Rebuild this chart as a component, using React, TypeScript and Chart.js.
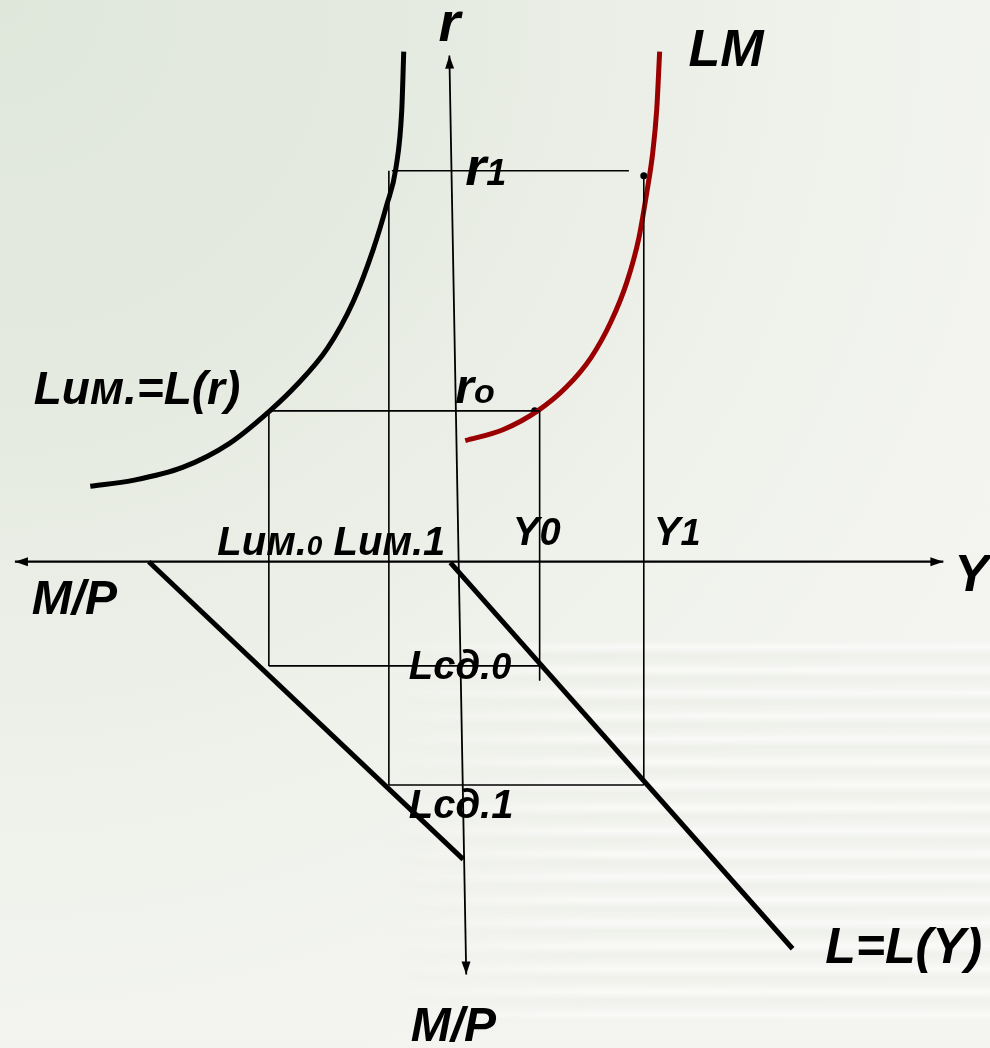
import React, { useEffect, useRef } from "react";
import { Chart, registerables } from "chart.js";

Chart.register(...registerables);

// Diagram frame: origin at the crossing of the r / Y axes.
const X_MIN = -450;
const X_MAX = 540;
const Y_MIN = -486;
const Y_MAX = 562;

// Interest-rate levels r0, r1
const rLevels = [152, 394];
// Asset demand for money Lим.0, Lим.1 (left of origin)
const assetDemand = [-183, -62];
// Income levels Y0, Y1
const incomeLevels = [90, 195];
// Transactions demand Lсд.0, Lсд.1 (below origin)
const transDemand = [-105, -225];

// Lим. = L(r) curve, ordered by money holdings
const assetCurve = [
  [-363, 76], [-320, 82], [-270, 95], [-223, 119], [-182, 152],
  [-155, 178], [-124, 215], [-98, 262], [-78, 314], [-64, 360],
  [-55, 396], [-49, 455], [-47, 514],
];
// LM curve, ordered by income
const lmCurve = [
  [15, 122], [53, 133], [88, 152], [117, 176], [142, 206], [162, 242],
  [178, 282], [190, 326], [198, 372], [204, 412], [208, 455], [211, 514],
];
// Money supply line M/P (third quadrant)
const supplyLine = [[-304, 0], [13, -300]];
// Transactions demand line L = L(Y) (fourth quadrant)
const demandLine = [[0, -1], [345, -390]];
// Axes
const rAxis = [[-1, 510], [16, -416]];
const yAxis = [[-439, 0], [497, 0]];
// Equilibrium points (Y, r)
const equilibria = [[85, 152], [195, 389]];

const FONT = '"Liberation Sans", Arial, sans-serif';

type Part = [string, number];
const labels: { parts: Part[]; x: number; y: number }[] = [
  { parts: [["r", 56]], x: -12, y: 525 },
  { parts: [["LM", 52]], x: 240, y: 500 },
  { parts: [["r", 54], ["1", 36]], x: 15, y: 380 },
  { parts: [["Lим.=L(r)", 46]], x: -420, y: 159 },
  { parts: [["r", 48], ["o", 34]], x: 5, y: 160 },
  { parts: [["Lим.", 40], ["0", 28], [" Lим.1", 40]], x: -235, y: 7 },
  { parts: [["Y", 40], ["0", 38]], x: 63, y: 17 },
  { parts: [["Y", 40], ["1", 36]], x: 205, y: 17 },
  { parts: [["Y", 52]], x: 508, y: -30 },
  { parts: [["M/P", 48]], x: -422, y: -53 },
  { parts: [["Lсд.", 40], ["0", 36]], x: -42, y: -118 },
  { parts: [["Lсд.1", 40]], x: -42, y: -258 },
  { parts: [["L=L(Y)", 50]], x: 378, y: -404 },
  { parts: [["M/P", 48]], x: -40, y: -483 },
];

const toPts = (arr: number[][]) => arr.map(([x, y]) => ({ x, y }));
const seg = (x1: number, y1: number, x2: number, y2: number) => [
  { x: x1, y: y1 },
  { x: x2, y: y2 },
];

const labelPlugin = {
  id: "diagramLabels",
  afterDatasetsDraw(chart: any) {
    const { ctx, scales } = chart;
    ctx.save();
    ctx.fillStyle = "#000";
    ctx.textBaseline = "alphabetic";
    ctx.textAlign = "left";
    for (const lab of labels) {
      let px = scales.x.getPixelForValue(lab.x);
      const py = scales.y.getPixelForValue(lab.y);
      for (const [t, size] of lab.parts) {
        ctx.font = `italic bold ${size}px ${FONT}`;
        ctx.fillText(t, px, py);
        px += ctx.measureText(t).width;
      }
    }
    ctx.restore();
  },
};

const arrowPlugin = {
  id: "axisArrows",
  afterDatasetsDraw(chart: any) {
    const { ctx } = chart;
    chart.data.datasets.forEach((ds: any, i: number) => {
      if (!ds.arrows) return;
      const pts = chart.getDatasetMeta(i).data;
      const ends = [
        [pts[0], pts[1]],
        [pts[pts.length - 1], pts[pts.length - 2]],
      ];
      ctx.save();
      ctx.fillStyle = "#000";
      for (const [tip, prev] of ends) {
        const a = Math.atan2(tip.y - prev.y, tip.x - prev.x);
        const len = 13;
        const half = 4.5;
        ctx.beginPath();
        ctx.moveTo(tip.x, tip.y);
        ctx.lineTo(
          tip.x - len * Math.cos(a) + half * Math.sin(a),
          tip.y - len * Math.sin(a) - half * Math.cos(a)
        );
        ctx.lineTo(
          tip.x - len * Math.cos(a) - half * Math.sin(a),
          tip.y - len * Math.sin(a) + half * Math.cos(a)
        );
        ctx.closePath();
        ctx.fill();
      }
      ctx.restore();
    });
  },
};

export default function App() {
  const ref = useRef<HTMLCanvasElement | null>(null);

  useEffect(() => {
    if (!ref.current) return;
    const [r0, r1] = rLevels;
    const [lim0, lim1] = assetDemand;
    const [y0, y1] = incomeLevels;
    const [lsd0, lsd1] = transDemand;

    const thin = (data: any[]) => ({
      data,
      borderColor: "#000",
      borderWidth: 1.6,
      pointRadius: 0,
      showLine: true,
      tension: 0,
    });

    const curve = (data: number[][], color: string) => ({
      data: toPts(data),
      borderColor: color,
      borderWidth: 5,
      pointRadius: 0,
      showLine: true,
      cubicInterpolationMode: "monotone",
      borderCapStyle: "butt",
    });

    const chart = new Chart(ref.current, {
      type: "scatter",
      data: {
        datasets: [
          // guide lines
          thin(seg(lim1 + 3, r1, y1 - 15, r1)),
          thin(seg(lim0, r0, y0, r0)),
          thin(seg(lim0, r0, lim0, lsd0)),
          thin(seg(lim1, r1, lim1, lsd1)),
          thin(seg(y0, r0, y0, lsd0 - 15)),
          thin(seg(y1, r1 - 5, y1, lsd1)),
          thin(seg(lim0, lsd0, y0, lsd0)),
          thin(seg(lim1, lsd1, y1, lsd1)),
          // axes
          { ...thin(toPts(rAxis)), borderWidth: 1.8, arrows: true } as any,
          { ...thin(toPts(yAxis)), borderWidth: 2.2, arrows: true } as any,
          // curves
          curve(assetCurve, "#000"),
          curve(lmCurve, "#9b0000"),
          {
            data: toPts(supplyLine),
            borderColor: "#000",
            borderWidth: 5,
            pointRadius: 0,
            showLine: true,
          },
          {
            data: toPts(demandLine),
            borderColor: "#000",
            borderWidth: 5,
            pointRadius: 0,
            showLine: true,
          },
          // equilibrium points
          {
            data: toPts(equilibria),
            backgroundColor: "#000",
            borderWidth: 0,
            pointRadius: 3.5,
            showLine: false,
          },
        ],
      },
      options: {
        animation: false,
        responsive: false,
        maintainAspectRatio: false,
        devicePixelRatio: 1,
        layout: { padding: 0 },
        plugins: {
          legend: { display: false },
          tooltip: { enabled: false },
          title: { display: false },
        },
        events: [],
        scales: {
          x: { type: "linear", min: X_MIN, max: X_MAX, display: false },
          y: { type: "linear", min: Y_MIN, max: Y_MAX, display: false },
        },
      },
      plugins: [labelPlugin, arrowPlugin],
    } as any);

    return () => chart.destroy();
  }, []);

  return (
    <div
      style={{
        position: "absolute",
        left: 0,
        top: 0,
        width: 990,
        height: 1048,
        overflow: "hidden",
        background:
          "radial-gradient(circle at 0% 0%, #dfe6da 0%, #e6ebe1 30%, #eff1eb 55%, #f3f4f0 75%, #f4f5f1 100%)",
      }}
    >
      <div
        style={{
          position: "absolute",
          left: 380,
          top: 640,
          width: 610,
          height: 380,
          background:
            "repeating-linear-gradient(180deg, rgba(255,255,255,0) 0px, rgba(255,255,255,0.55) 7px, rgba(228,231,222,0.25) 15px, rgba(255,255,255,0) 23px)",
          WebkitMaskImage:
            "linear-gradient(90deg, rgba(0,0,0,0) 0%, rgba(0,0,0,1) 35%, rgba(0,0,0,1) 100%)",
          maskImage:
            "linear-gradient(90deg, rgba(0,0,0,0) 0%, rgba(0,0,0,1) 35%, rgba(0,0,0,1) 100%)",
        }}
      />
      <canvas
        ref={ref}
        width={990}
        height={1048}
        style={{ position: "absolute", left: 0, top: 0, display: "block" }}
      />
    </div>
  );
}
